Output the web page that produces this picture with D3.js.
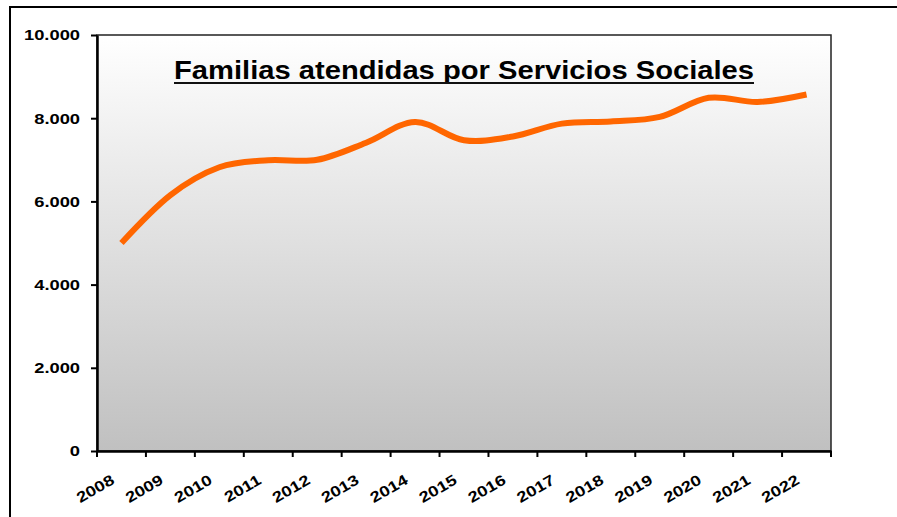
<!DOCTYPE html>
<html>
<head>
<meta charset="utf-8">
<script src="https://cdn.jsdelivr.net/npm/d3@7"></script>
<style>
  body { margin: 0; background: #fff; }
  svg { display: block; font-family: "Liberation Sans", Arial, sans-serif; }
</style>
</head>
<body>
<div id="chart"></div>
<script>
// data
var years = ["2008", "2009", "2010", "2011", "2012", "2013", "2014", "2015",
             "2016", "2017", "2018", "2019", "2020", "2021", "2022"];
var familias = [5000, 6150, 6820, 6990, 7000, 7410, 7910, 7470,
                7560, 7870, 7920, 8030, 8490, 8390, 8570];
var yTicks = [0, 2000, 4000, 6000, 8000, 10000];
var title = "Familias atendidas por Servicios Sociales";

var width = 897, height = 517;
var plot = { left: 97, top: 35, right: 831, bottom: 451 };
var stretch = 1.22; // text in the picture is a bit wider than the font

var svg = d3.select("#chart").append("svg")
    .attr("width", width)
    .attr("height", height);

// outer frame, runs off the right and bottom edges
svg.append("rect")
    .attr("x", 10).attr("y", 7)
    .attr("width", 920).attr("height", 540)
    .attr("fill", "none")
    .attr("stroke", "#000")
    .attr("stroke-width", 2);

var grad = svg.append("defs").append("linearGradient")
    .attr("id", "bg")
    .attr("x1", 0).attr("y1", 0).attr("x2", 0).attr("y2", 1);
grad.append("stop").attr("offset", "0%").attr("stop-color", "#ffffff");
grad.append("stop").attr("offset", "100%").attr("stop-color", "#c0c0c0");

var x = d3.scaleBand().domain(years).range([plot.left, plot.right]).padding(0);
var y = d3.scaleLinear().domain([0, 10000]).range([plot.bottom, plot.top]);
var fmt = function(d) { return d3.format(",")(d).replace(/,/g, "."); };

svg.append("rect")
    .attr("x", plot.left).attr("y", plot.top)
    .attr("width", plot.right - plot.left)
    .attr("height", plot.bottom - plot.top)
    .attr("fill", "url(#bg)")
    .attr("stroke", "#222")
    .attr("stroke-width", 1.5);

function widen(sel) {
  sel.each(function() {
    var len = this.getComputedTextLength();
    d3.select(this).attr("textLength", len * stretch).attr("lengthAdjust", "spacingAndGlyphs");
  });
}

// y axis
var yAxis = svg.append("g")
    .attr("transform", "translate(" + plot.left + ",0)")
    .call(d3.axisLeft(y).tickValues(yTicks).tickFormat(fmt).tickSize(6).tickSizeOuter(0).tickPadding(11));
yAxis.select(".domain").attr("stroke", "#000").attr("stroke-width", 2.5);
yAxis.selectAll(".tick line").attr("stroke", "#000").attr("stroke-width", 2);
yAxis.selectAll(".tick text")
    .attr("fill", "#000")
    .attr("font-size", 15)
    .attr("font-weight", "bold")
    .attr("font-family", "'Liberation Sans', Arial, sans-serif")
    .call(widen);

// x axis: ticks sit between categories
var xAxis = svg.append("g")
    .attr("transform", "translate(0," + plot.bottom + ")")
    .call(d3.axisBottom(x).tickSize(0).tickSizeOuter(0));
xAxis.select(".domain").attr("stroke", "#000").attr("stroke-width", 2.5);
xAxis.selectAll(".tick line").remove();
xAxis.selectAll(".tmark")
    .data(years.map(function(d) { return x(d); }).concat([plot.right]))
    .enter().append("line")
    .attr("class", "tmark")
    .attr("x1", function(d) { return d; }).attr("x2", function(d) { return d; })
    .attr("y1", 0).attr("y2", 6)
    .attr("stroke", "#000").attr("stroke-width", 2);
xAxis.selectAll(".tick text")
    .attr("fill", "#000")
    .attr("font-size", 15)
    .attr("font-weight", "bold")
    .attr("font-family", "'Liberation Sans', Arial, sans-serif")
    .attr("text-anchor", "end")
    .attr("dy", null)
    .attr("y", 0)
    .attr("transform", "translate(-6,32) rotate(-30)")
    .call(widen);

// title
var t = svg.append("text")
    .attr("x", (plot.left + plot.right) / 2)
    .attr("y", 79)
    .attr("text-anchor", "middle")
    .attr("font-size", 25)
    .attr("font-weight", "bold")
    .attr("fill", "#000")
    .attr("textLength", 580)
    .attr("lengthAdjust", "spacingAndGlyphs")
    .text(title);
svg.append("line")
    .attr("x1", (plot.left + plot.right) / 2 - 290)
    .attr("x2", (plot.left + plot.right) / 2 + 290)
    .attr("y1", 83).attr("y2", 83)
    .attr("stroke", "#111").attr("stroke-width", 2);

// series
var line = d3.line()
    .x(function(d, i) { return x(years[i]) + x.bandwidth() / 2; })
    .y(function(d) { return y(d); })
    .curve(d3.curveCardinal.tension(0));

svg.append("path")
    .datum(familias)
    .attr("d", line)
    .attr("fill", "none")
    .attr("stroke", "#ff6600")
    .attr("stroke-width", 6);
</script>
</body>
</html>
